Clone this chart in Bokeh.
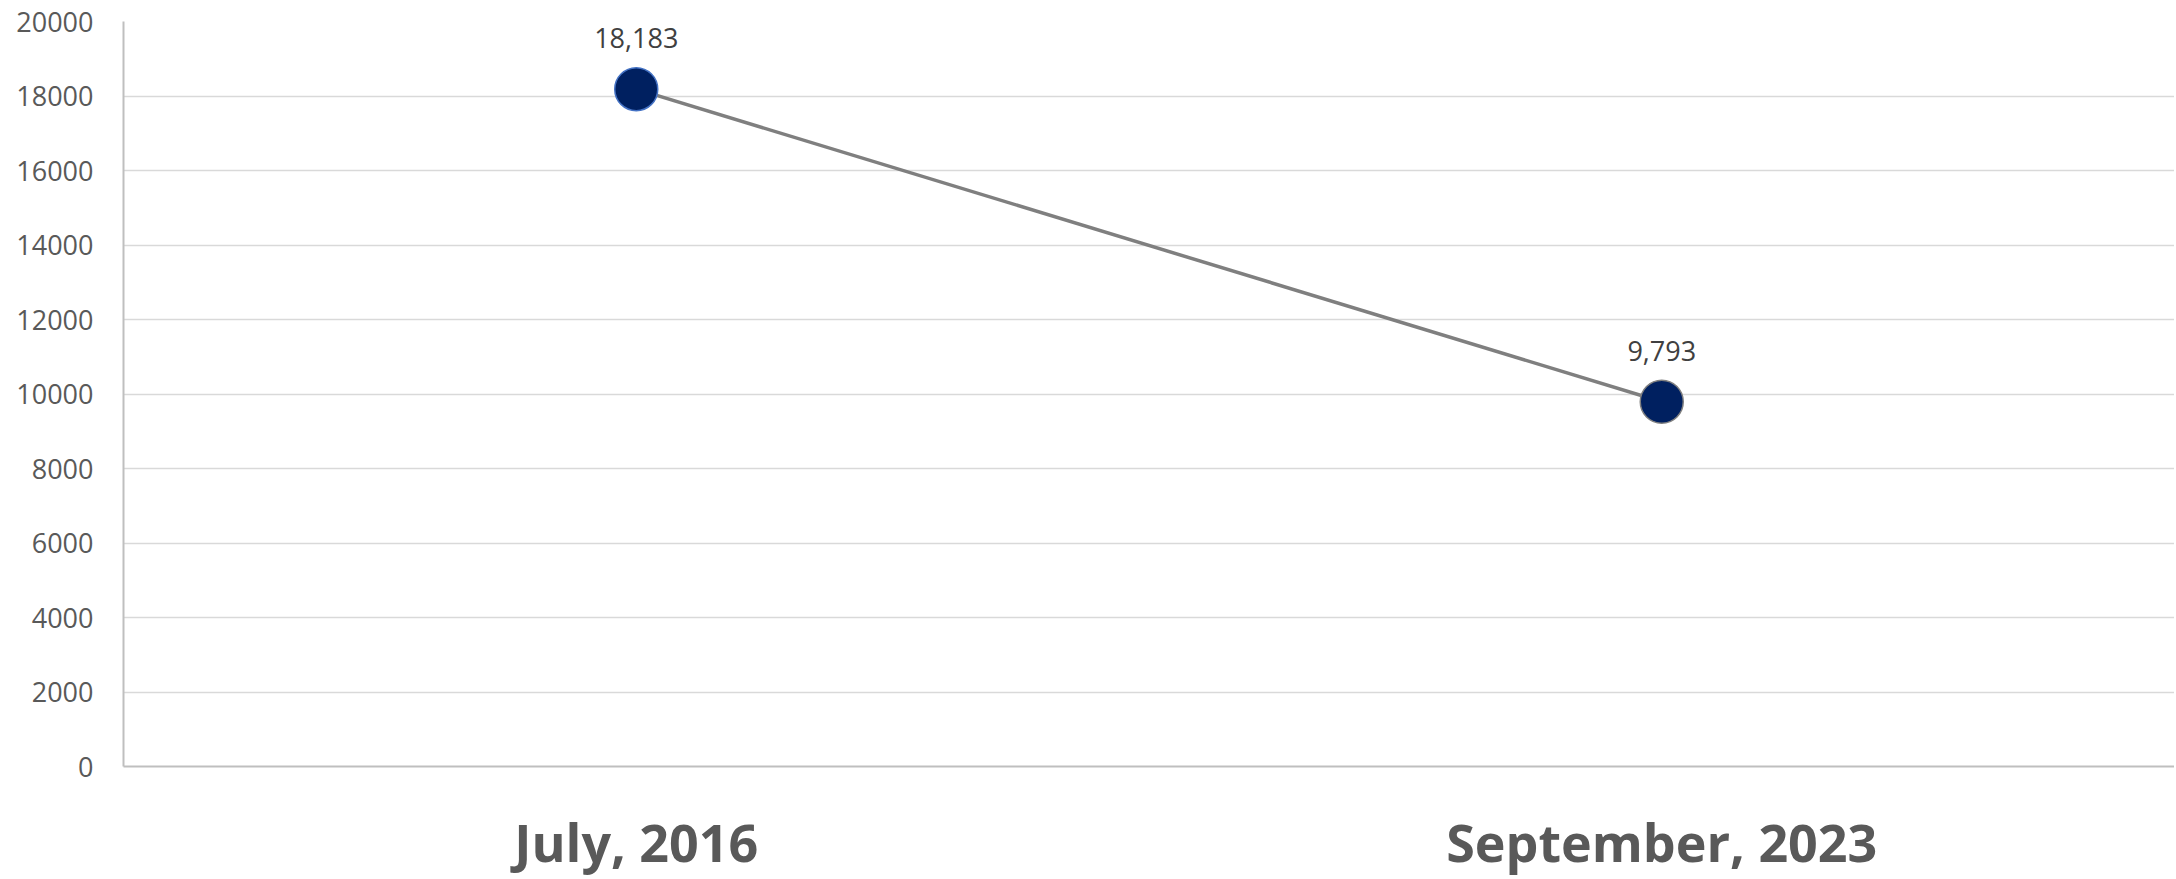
from bokeh.plotting import figure
from bokeh.models import ColumnDataSource, FactorRange, Range1d, SingleIntervalTicker, NumeralTickFormatter
from bokeh.core.properties import value
from bokeh.embed import file_html
from bokeh.resources import INLINE

categories = ["July, 2016", "September, 2023"]
values = [18183, 9793]
outline_colors = ["#4472C4", "#808080"]
labels = [f"{v:,}" for v in values]

source = ColumnDataSource(dict(x=categories, y=values, lbl=labels, oc=outline_colors))

p = figure(
    x_range=FactorRange(*categories, range_padding=0),
    y_range=Range1d(0, 20000),
    frame_width=2051, frame_height=745,
    output_backend="svg", toolbar_location=None,
    min_border_left=123, min_border_top=21, min_border_right=0, min_border_bottom=0,
)
p.outline_line_color = None
p.background_fill_color = "white"
p.border_fill_color = "white"

p.line("x", "y", source=source, line_color="#7F7F7F", line_width=3.5)
p.scatter("x", "y", source=source, size=43, fill_color="#002060", line_color="oc", line_width=1.5)
p.text("x", "y", text="lbl", source=source, y_offset=-51, text_align="center",
       text_baseline="alphabetic", text_font=value("Open Sans"), text_font_size="27px",
       text_color="#404040")

p.yaxis.ticker = SingleIntervalTicker(interval=2000)
p.yaxis.formatter = NumeralTickFormatter(format="0")
p.yaxis.major_label_text_font = "Open Sans"
p.yaxis.major_label_text_font_size = "27px"
p.yaxis.major_label_text_color = "#595959"
p.yaxis.major_label_standoff = 24
p.yaxis.major_tick_line_color = None
p.yaxis.minor_tick_line_color = None
p.yaxis.axis_line_color = "#BFBFBF"
p.yaxis.axis_line_width = 2

p.xaxis.major_label_text_font = "Open Sans"
p.xaxis.major_label_text_font_size = "52px"
p.xaxis.major_label_text_font_style = "bold"
p.xaxis.major_label_text_color = "#595959"
p.xaxis.major_label_standoff = 33
p.xaxis.major_tick_line_color = None
p.xaxis.minor_tick_line_color = None
p.xaxis.axis_line_color = "#BFBFBF"
p.xaxis.axis_line_width = 2

p.xgrid.grid_line_color = None
p.ygrid.grid_line_color = "#D9D9D9"
p.ygrid.grid_line_width = 1.5

open("out.html", "w").write(file_html(p, INLINE))
